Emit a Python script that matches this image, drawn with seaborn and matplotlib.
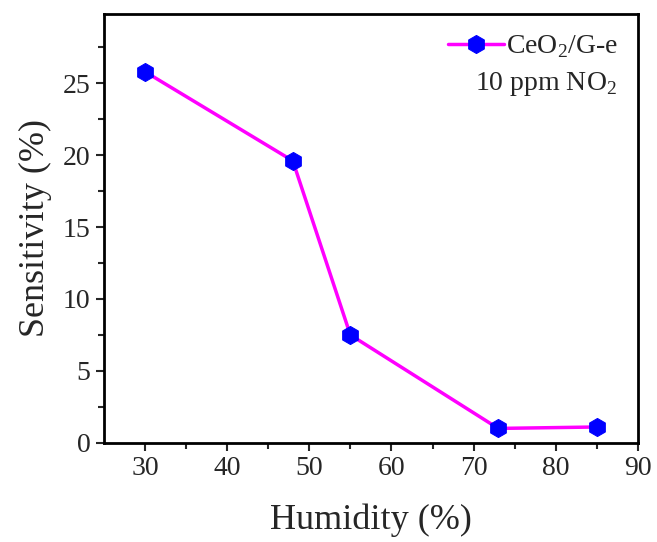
import seaborn as sns
import matplotlib.pyplot as plt
import pandas as pd

humidity = [30, 48, 55, 73, 85]
sensitivity = [25.8, 19.6, 7.5, 1.0, 1.1]
series_label = 'CeO$_2$/G-e'

df = pd.DataFrame({'Humidity': humidity, 'Sensitivity': sensitivity})

sns.set_style('ticks')
plt.rcParams['font.family'] = ['Liberation Serif', 'DejaVu Serif']
plt.rcParams['mathtext.fontset'] = 'custom'
plt.rcParams['mathtext.rm'] = 'Liberation Serif'

fig = plt.figure(figsize=(6.57, 5.42), dpi=100)
ax = fig.add_axes([0.158, 0.183, 0.813, 0.791])

sns.lineplot(data=df, x='Humidity', y='Sensitivity', ax=ax, color='#FF00FF',
             linewidth=2.5, marker='h', markersize=13, markerfacecolor='#0000FF',
             markeredgecolor='#0000FF', label=series_label)

ax.set_xlim(25, 90)
ax.set_ylim(0, 29.8)
ax.set_xticks([30, 40, 50, 60, 70, 80, 90])
ax.set_xticks([35, 45, 55, 65, 75, 85], minor=True)
ax.set_yticks([0, 5, 10, 15, 20, 25])
ax.set_yticks([2.5, 7.5, 12.5, 17.5, 22.5, 27.5], minor=True)
ax.tick_params(which='major', length=6, width=1.5, labelsize=20, direction='out')
ax.tick_params(which='minor', length=4, width=1.5, direction='out')
for s in ax.spines.values():
    s.set_linewidth(2)
    s.set_color('black')

ax.set_xlabel('Humidity (%)', fontsize=26, labelpad=16)
ax.set_ylabel('Sensitivity (%)', fontsize=26, labelpad=8)

leg = ax.legend(loc='upper right', frameon=False, fontsize=20, handlelength=2.0,
                handletextpad=0.1, borderaxespad=0.3, bbox_to_anchor=(1.0, 1.0))
ax.text(0.96, 0.838, '10 ppm NO$_2$', transform=ax.transAxes, ha='right',
        va='center', fontsize=20)

fig.savefig('out.png', dpi=100)
